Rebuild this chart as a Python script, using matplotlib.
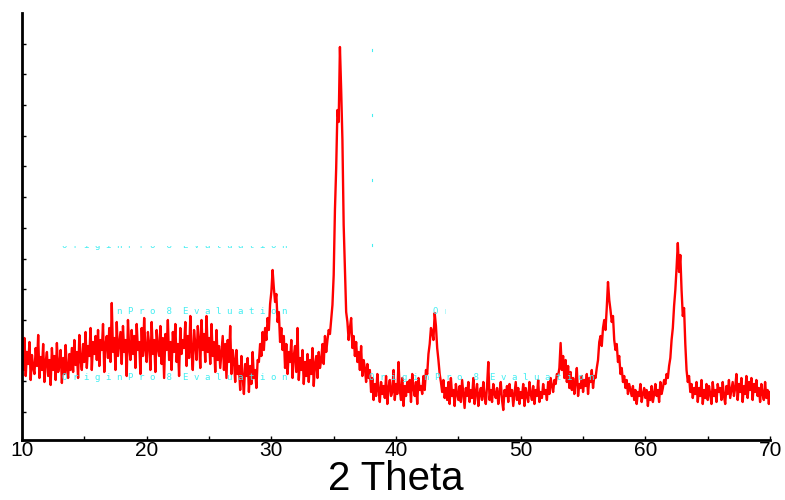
import matplotlib
matplotlib.use("Agg")
import matplotlib.pyplot as plt
import numpy as np
from matplotlib.transforms import Bbox, TransformedBbox

# XRD pattern, 0.1 deg steps from 10 to 70 (arbitrary counts)
two_theta = np.round(np.arange(100, 701) / 10.0, 1)
intensity = [
    95, 70, 102, 64, 88, 76, 98, 60, 85, 72,        # 10
    66, 92, 74, 105, 62, 83, 70, 96, 58, 78,        # 11
    88, 64, 80, 55, 92, 70, 84, 60, 97, 68,         # 12
    74, 90, 57, 82, 66, 95, 72, 62, 86, 70,         # 13
    92, 68, 100, 75, 88, 62, 105, 80, 70, 96,       # 14
    78, 108, 72, 94, 84, 112, 70, 98, 86, 104,      # 15
    80, 110, 74, 100, 90, 116, 68, 96, 104, 82,     # 16
    112, 78, 137, 88, 102, 70, 118, 84, 96, 108,    # 17
    76, 114, 88, 100, 64, 120, 92, 80, 110, 86,     # 18
    104, 72, 116, 90, 98, 66, 112, 84, 122, 90,     # 19
    78, 108, 96, 70, 118, 86, 100, 68, 110, 92,     # 20
    84, 114, 76, 102, 62, 106, 90, 120, 80, 98,     # 21
    70, 108, 88, 116, 78, 96, 64, 112, 86, 100,     # 22
    92, 118, 74, 104, 82, 124, 88, 70, 110, 96,     # 23
    80, 114, 100, 72, 120, 90, 106, 78, 124, 88,    # 24
    102, 76, 116, 84, 98, 68, 110, 80, 94, 72,      # 25
    88, 104, 70, 96, 62, 100, 78, 114, 66, 90,      # 26
    80, 58, 90, 66, 74, 50, 84, 62, 46, 76,         # 27
    64, 82, 48, 74, 56, 88, 62, 70, 52, 80,         # 28
    78, 96, 84, 108, 90, 112, 100, 122, 110, 136,   # 29
    148, 170, 152, 138, 146, 118, 128, 98, 112, 90, # 30
    104, 72, 96, 66, 88, 78, 100, 62, 84, 94,       # 31
    68, 112, 60, 82, 70, 90, 56, 78, 64, 86,        # 32
    58, 80, 66, 92, 54, 76, 84, 62, 88, 72,         # 33
    80, 96, 76, 104, 88, 100, 110, 106, 120, 135,   # 34
    165, 230, 272, 330, 318, 393, 350, 300, 215, 170,  # 35
    128, 118, 100, 112, 122, 92, 104, 84, 98, 78,   # 36
    88, 70, 94, 64, 80, 72, 58, 76, 62, 70,         # 37
    48, 62, 40, 56, 44, 66, 50, 38, 58, 46,         # 38
    54, 42, 64, 36, 52, 60, 44, 48, 70, 40,         # 39
    56, 46, 78, 50, 40, 62, 34, 54, 44, 58,         # 40
    48, 60, 38, 66, 52, 44, 58, 36, 62, 50,         # 41
    54, 46, 64, 50, 70, 66, 86, 96, 112, 108,       # 42
    100, 127, 114, 92, 80, 66, 58, 48, 60, 42,      # 43
    52, 40, 58, 36, 62, 44, 50, 34, 56, 46,         # 44
    40, 54, 38, 60, 46, 32, 52, 44, 58, 38,         # 45
    50, 42, 62, 36, 48, 56, 34, 46, 52, 40,         # 46
    58, 44, 36, 54, 78, 40, 50, 38, 56, 46,         # 47
    42, 52, 36, 48, 58, 40, 30, 50, 44, 54,         # 48
    38, 56, 44, 50, 34, 46, 58, 40, 52, 36,         # 49
    48, 42, 56, 34, 52, 44, 38, 58, 46, 40,         # 50
    54, 36, 50, 44, 60, 38, 48, 42, 56, 46,         # 51
    50, 40, 58, 46, 62, 54, 48, 60, 56, 66,         # 52
    64, 72, 97, 70, 84, 62, 80, 58, 74, 52,         # 53
    68, 50, 62, 46, 58, 72, 44, 56, 52, 64,         # 54
    48, 60, 54, 66, 46, 62, 58, 70, 52, 64,         # 55
    62, 72, 80, 98, 104, 94, 112, 120, 110, 132,    # 56
    158, 140, 130, 118, 124, 100, 90, 96, 78, 84,   # 57
    66, 72, 58, 64, 52, 60, 46, 56, 50, 44,         # 58
    54, 40, 50, 36, 48, 44, 56, 38, 46, 52,         # 59
    42, 50, 34, 48, 40, 54, 38, 46, 56, 44,         # 60
    50, 38, 58, 46, 52, 60, 56, 66, 62, 74,         # 61
    82, 100, 112, 134, 150, 172, 197, 168, 185, 150,  # 62
    124, 132, 96, 70, 58, 64, 48, 56, 42, 52,       # 63
    46, 58, 38, 52, 44, 60, 36, 50, 42, 56,         # 64
    40, 54, 46, 36, 58, 44, 50, 38, 56, 48,         # 65
    52, 40, 58, 44, 36, 54, 46, 60, 42, 50,         # 66
    58, 44, 52, 66, 40, 56, 48, 62, 38, 54,         # 67
    46, 64, 42, 58, 50, 62, 40, 56, 48, 60,         # 68
    44, 52, 38, 56, 46, 40, 58, 42, 50, 36,         # 69
    48,                                             # 70
]

x_ticks = [10, 20, 30, 40, 50, 60, 70]
watermark = "O r i g i n P r o  8  E v a l u a t i o n"

plt.rcParams['font.family'] = ['Liberation Sans', 'DejaVu Sans']

fig = plt.figure(figsize=(7.85, 5.0), dpi=100)
ax = fig.add_axes([0.028, 0.12, 0.953, 0.854])

ax.plot(two_theta, intensity, color='#ff0000', lw=1.7)

ax.set_xlim(10, 70)
ax.set_ylim(0, 427)

# faint evaluation watermarks left by the original software
wm_color = '#45eef2'
def stamp(x, y, text, clip=None):
    t = ax.text(x, y, text, color=wm_color, fontsize=6.6, family='DejaVu Sans Mono',
                va='center', ha='left')
    if clip is not None:
        t.set_clip_box(TransformedBbox(Bbox(clip), ax.transData))
        t.set_clip_on(True)

stamp(13.2, 195, watermark, clip=[[10, 150], [70, 194]])
stamp(13.2, 129, watermark, clip=[[17.2, 100], [70, 136]])
stamp(13.2, 63, watermark)
stamp(37.8, 63, watermark)
stamp(43.0, 129, watermark, clip=[[42, 100], [44.0, 136]])
for yy in [390, 325, 260, 195]:
    ax.plot([38.1, 38.1], [yy - 1, yy + 1], color=wm_color, lw=0.8)

ax.spines['top'].set_visible(False)
ax.spines['right'].set_visible(False)
ax.spines['left'].set_linewidth(2)
ax.spines['bottom'].set_linewidth(2)

ax.set_xticks(x_ticks)
ax.set_xticks([15, 25, 35, 45, 55, 65], minor=True)
ax.tick_params(axis='x', which='both', direction='in', length=3, width=1, pad=1, labelsize=15)
ax.set_yticks(np.arange(28, 420, 30.7))
ax.set_yticklabels([])
ax.tick_params(axis='y', direction='in', length=3, width=1)

ax.set_xlabel('2 Theta', fontsize=29, labelpad=0)

fig.savefig('out.png', dpi=100)
